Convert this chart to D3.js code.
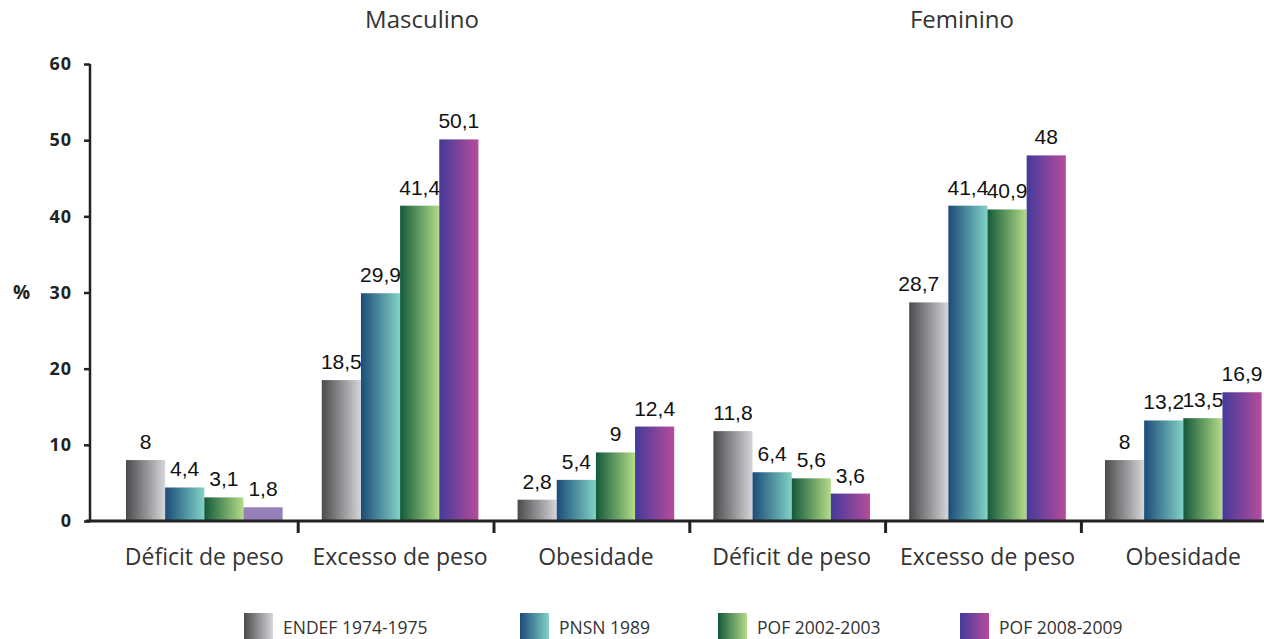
<!DOCTYPE html>
<html><head><meta charset="utf-8">
<script src="https://cdn.jsdelivr.net/npm/d3@7"></script>
<style>
html,body{margin:0;padding:0;background:#fff;overflow:hidden}
svg{display:block}
</style></head>
<body>
<svg id="chart" width="1264" height="639"></svg>
<script>
const categories = ["Déficit de peso","Excesso de peso","Obesidade","Déficit de peso","Excesso de peso","Obesidade"];
const groupKeys = ["m-def","m-exc","m-obe","f-def","f-exc","f-obe"];
const sexes = ["Masculino","Feminino"];
const seriesNames = ["ENDEF 1974-1975","PNSN 1989","POF 2002-2003","POF 2008-2009"];
const endef = [8, 18.5, 2.8, 11.8, 28.7, 8];
const pnsn = [4.4, 29.9, 5.4, 6.4, 41.4, 13.2];
const pof2002 = [3.1, 41.4, 9, 5.6, 40.9, 13.5];
const pof2008 = [1.8, 50.1, 12.4, 3.6, 48, 16.9];
const yTicks = [0,10,20,30,40,50,60];

const seriesValues = [endef, pnsn, pof2002, pof2008];
const gradStops = [["#4b4b4d","#d6d6d8"],["#1b4c78","#82d2c6"],["#135a3a","#b4dc88"],["#453a9b","#b64c9b"]];

const svg = d3.select("#chart");
const defs = svg.append("defs");
gradStops.forEach((s,i)=>{
  const g = defs.append("linearGradient").attr("id","g"+i).attr("x1","0").attr("x2","1").attr("y1","0").attr("y2","0");
  g.append("stop").attr("offset","0").attr("stop-color",s[0]);
  g.append("stop").attr("offset","1").attr("stop-color",s[1]);
});

const x = d3.scaleBand().domain(groupKeys).range([106.4, 1281.2]).paddingInner(0.2).paddingOuter(0.1);
const xs = d3.scaleBand().domain(d3.range(4)).range([0, x.bandwidth()]);
const y = d3.scaleLinear().domain([0,60]).range([521, 64]);

// bars
seriesValues.forEach((vals,si)=>{
  const g = svg.append("g");
  g.selectAll("rect").data(vals).join("rect")
    .attr("x",(d,i)=>x(groupKeys[i]) + xs(si))
    .attr("y",d=>y(d))
    .attr("width", xs.bandwidth())
    .attr("height", d=>y(0)-y(d))
    .attr("fill",(d,i)=> (si===3 && i===0) ? "#977fb9" : "url(#g"+si+")");
  g.selectAll("text").data(vals).join("text")
    .attr("x",(d,i)=>x(groupKeys[i]) + xs(si) + xs.bandwidth()/2 - (si===0 && i===4 ? 10 : 0))
    .attr("y",d=>y(d) - 11)
    .attr("text-anchor","middle")
    .attr("font-family","'Liberation Sans', Arial, sans-serif")
    .attr("font-size",21)
    .attr("fill","#111")
    .text(d=>String(d).replace(".",","));
});

// y axis
const yAxis = svg.append("g").attr("transform","translate(90,0)")
  .call(d3.axisLeft(y).tickValues(yTicks).tickSize(6).tickPadding(12).tickFormat(d3.format("d")));
yAxis.select(".domain").attr("stroke","#222").attr("stroke-width",2.5).attr("d","M0,64V522");
yAxis.selectAll(".tick line").attr("stroke","#222").attr("stroke-width",2.5);
yAxis.selectAll(".tick text").attr("font-family","'Open Sans', sans-serif").attr("font-weight","bold")
  .attr("font-size",18).attr("letter-spacing",1).attr("fill","#222");
svg.append("text").attr("x",13).attr("y",299).attr("font-family","'Open Sans', sans-serif")
  .attr("font-weight","bold").attr("font-size",19).attr("fill","#222").text("%");

// x axis
const xAxis = svg.append("g").attr("transform","translate(0,521)");
xAxis.append("line").attr("x1",86).attr("x2",1264).attr("stroke","#222").attr("stroke-width",3);
const step = x.step();
xAxis.selectAll("line.tk").data(groupKeys.slice(1)).join("line").attr("class","tk")
  .attr("x1",d=>x(d) - (step - x.bandwidth())/2 - 4)
  .attr("x2",d=>x(d) - (step - x.bandwidth())/2 - 4)
  .attr("y1",0).attr("y2",12).attr("stroke","#222").attr("stroke-width",3);
xAxis.selectAll("text").data(groupKeys).join("text")
  .attr("x",(d,i)=>x(d) + x.bandwidth()/2)
  .attr("y",44)
  .attr("text-anchor","middle")
  .attr("font-family","'Open Sans', sans-serif")
  .attr("font-size",23).attr("fill","#333")
  .text((d,i)=>categories[i]);

// section titles
const titleX = [422, 962];
svg.selectAll("text.title").data(sexes).join("text").attr("class","title")
  .attr("x",(d,i)=>titleX[i]).attr("y",28).attr("text-anchor","middle")
  .attr("font-family","'Open Sans', sans-serif").attr("font-size",24).attr("fill","#333")
  .text(d=>d);

// legend
const legX = [244, 520, 718, 960];
const leg = svg.append("g");
seriesNames.forEach((n,i)=>{
  leg.append("rect").attr("x",legX[i]).attr("y",613).attr("width",29).attr("height",30).attr("fill","url(#g"+i+")");
  leg.append("text").attr("x",legX[i]+39).attr("y",634)
    .attr("font-family","'Open Sans', sans-serif").attr("font-size",17.5).attr("fill","#333").text(n);
});
</script>
</body></html>
